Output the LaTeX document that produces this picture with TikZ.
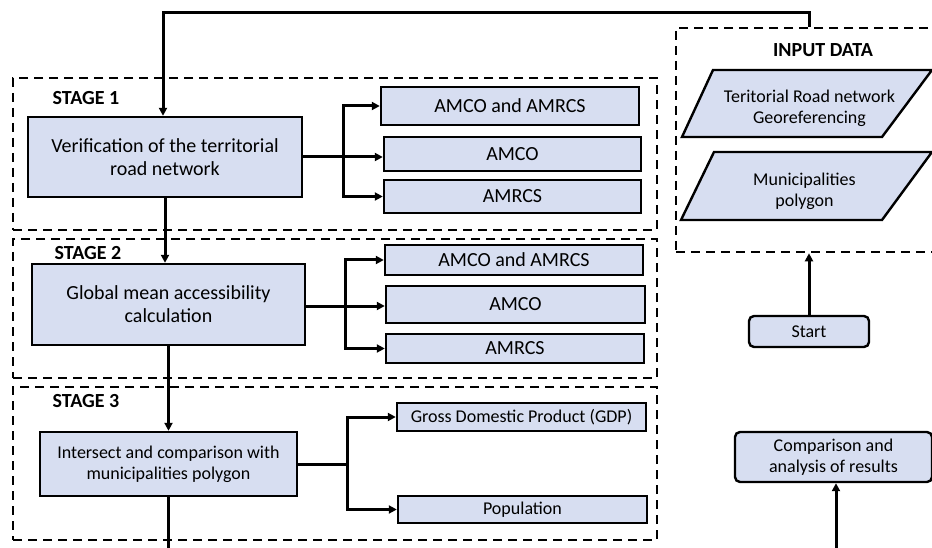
\documentclass[tikz,border=0pt]{standalone}
\usepackage{fontspec}
\setmainfont{Carlito}
\usetikzlibrary{arrows.meta,calc}
\definecolor{boxfill}{RGB}{215,222,241}
\tikzset{
  big/.style={font=\fontsize{20}{23}\selectfont},
  small/.style={font=\fontsize{18}{21}\selectfont},
  procbox/.style={draw=black, fill=boxfill, line width=2.4pt, rectangle, inner sep=0pt, align=center},
  roundbox/.style={procbox, rounded corners=5pt},
  stagebox/.style={draw=black, line width=2.6pt, dash pattern=on 9pt off 6pt, rectangle, inner sep=0pt},
  stagelabel/.style={font=\fontsize{20}{23}\selectfont\bfseries, inner sep=0pt},
  conn/.style={line width=3pt},
  arr/.style={conn, -{Triangle[length=8pt,width=8pt]}},
}
\begin{document}
\begin{tikzpicture}[x=1pt,y=-1pt]
\clip (0,0) rectangle (932,548);
\fill[white] (0,0) rectangle (932,548);

% stage frames
\node[stagebox, minimum width=644pt, minimum height=152pt] (st1) at (335,154) {};
\node[stagebox, minimum width=644pt, minimum height=139pt] (st2) at (335,308.5) {};
\node[stagebox, minimum width=644pt, minimum height=153pt] (st3) at (335,463.5) {};
\node[stagebox, minimum width=269pt, minimum height=224pt] (inbox) at (810.5,140) {};

\node[stagelabel] (l1) at (86,98) {STAGE 1};
\node[stagelabel] (l2) at (88,253) {STAGE 2};
\node[stagelabel] (l3) at (86,401) {STAGE 3};
\node[stagelabel] (lin) at (823,50) {INPUT DATA};

% stage 1
\node[procbox, big, minimum width=274pt, minimum height=80pt] (ver) at (165,157) {Verification of the territorial\\road network};
\node[procbox, big, minimum width=258pt, minimum height=38pt] (s1a) at (510,106) {AMCO and AMRCS};
\node[procbox, big, minimum width=257pt, minimum height=34pt] (s1b) at (512.5,154) {AMCO};
\node[procbox, big, minimum width=257pt, minimum height=33pt] (s1c) at (512.5,196.5) {AMRCS};

% stage 2
\node[procbox, big, minimum width=273pt, minimum height=81pt] (glob) at (168.5,304.5) {Global mean accessibility\\calculation};
\node[procbox, big, minimum width=258pt, minimum height=30pt] (s2a) at (514,260) {AMCO and AMRCS};
\node[procbox, big, minimum width=259pt, minimum height=37pt] (s2b) at (515.5,304.5) {AMCO};
\node[procbox, big, minimum width=258pt, minimum height=29pt] (s2c) at (515,348.5) {AMRCS};

% stage 3
\node[procbox, small, minimum width=257pt, minimum height=64pt] (inter) at (168.5,464) {Intersect and comparison with\\municipalities polygon};
\node[procbox, small, minimum width=249pt, minimum height=28pt] (gdp) at (521.5,417) {Gross Domestic Product (GDP)};
\node[procbox, small, minimum width=249pt, minimum height=27pt] (pop) at (522.5,509.5) {Population};

% input data
\filldraw[fill=boxfill, draw=black, line width=2.4pt] (682,137) -- (713,70) -- (932,70) -- (882,137) -- cycle;
\node[small, align=center, inner sep=0pt] (trn) at (809.5,108) {Teritorial Road network\\Georeferencing};
\filldraw[fill=boxfill, draw=black, line width=2.4pt] (681,220) -- (714,152) -- (932,152) -- (882,220) -- cycle;
\node[small, align=center, inner sep=0pt] (mun) at (804.5,191) {Municipalities\\polygon};

\node[roundbox, small, minimum width=120pt, minimum height=31pt] (start) at (809,331.5) {Start};
\node[roundbox, small, minimum width=197pt, minimum height=50pt] (comp) at (833.5,457) {Comparison and\\analysis of results};

% connectors
\coordinate (tr) at (809,13);
\coordinate (tl) at (163,13);
\draw[arr] (tr |- inbox.north) -- (tr) -- (tl) -- (tl |- ver.north);
\draw[arr] (start.north) -- (start.north |- inbox.south);

\draw[arr] (ver.south) -- (ver.south |- glob.north);
\coordinate (j1) at (343,157);
\draw[conn] (ver.east |- j1) -- (j1);
\draw[arr] (j1) |- (s1a.west);
\draw[arr] (j1) -- (j1 -| s1b.west);
\draw[arr] (j1) |- (s1c.west);

\draw[arr] (glob.south) -- (glob.south |- inter.north);
\coordinate (j2) at (345,306);
\draw[conn] (glob.east |- j2) -- (j2);
\draw[arr] (j2) |- (s2a.west);
\draw[arr] (j2) -- (j2 -| s2b.west);
\draw[arr] (j2) |- (s2c.west);

\coordinate (j3) at (347,464);
\draw[conn] (inter.east) -- (j3);
\draw[arr] (j3) |- (gdp.west);
\draw[arr] (j3) |- (pop.west);

\coordinate (b1) at (168.5,555);
\draw[conn] (inter.south) -- (b1);
\coordinate (b2) at (836,555);
\draw[arr] (b2) -- (b2 |- comp.south);
\end{tikzpicture}
\end{document}
